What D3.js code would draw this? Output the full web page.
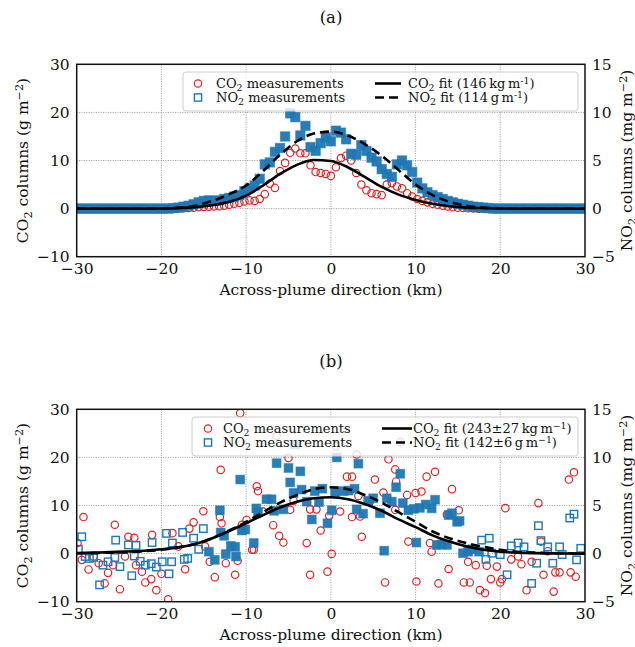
<!DOCTYPE html>
<html><head><meta charset="utf-8">
<script src="https://cdn.jsdelivr.net/npm/d3@7"></script>
<style>
body{margin:0;background:#fff}
svg{display:block}
text{font-family:"DejaVu Serif",serif;fill:#111}
</style>
</head><body>
<svg id="c" width="635" height="647"></svg>
<script>
// ---------- data ----------
const xTicks = [-30, -20, -10, 0, 10, 20, 30];
const co2Ticks = [-10, 0, 10, 20, 30];
const no2Ticks = [-5, 0, 5, 10, 15];

// fit curves, sampled every 2 km (CO2 in g m-2, NO2 in mg m-2)
const fitX = [-30,-28,-26,-24,-22,-20,-18,-16,-14,-12,-10,-8,-6,-4,-2,0,2,4,6,8,10,12,14,16,18,20,22,24,26,28,30];
const aCo2Fit = [0,0,0,0,0,0.02,0.1,0.3,0.7,1.4,2.7,4.8,7.2,9.1,10.1,9.9,8.6,6.6,4.5,2.9,1.8,1.0,0.5,0.2,0.1,0.03,0,0,0,0,0];
const aNo2Fit = [0,0,0,0,0,0.03,0.1,0.3,0.8,1.5,2.4,3.9,5.6,7.0,7.8,8.0,7.6,6.7,5.5,4.0,2.5,1.4,0.7,0.3,0.1,0.03,0,0,0,0,0];
const bCo2Fit = [0.1,0.2,0.3,0.45,0.6,0.9,1.3,2.0,3.2,4.7,6.3,8.0,9.6,10.8,11.5,11.7,11.3,10.3,8.9,7.1,5.5,3.8,2.5,1.5,0.8,0.4,0.2,0.1,0.05,0.02,0];
const bNo2Fit = [0.03,0.05,0.1,0.15,0.25,0.4,0.65,1.0,1.6,2.4,3.3,4.3,5.3,6.1,6.7,6.9,6.7,6.1,5.3,4.3,3.3,2.3,1.6,1.1,0.7,0.4,0.2,0.1,0.05,0.02,0];

// panel (a) measurements
const aX = [-30.0,-29.4,-28.8,-28.2,-27.6,-27.0,-26.4,-25.8,-25.2,-24.6,-24.0,-23.4,-22.8,-22.2,-21.6,-21.0,-20.4,-19.8,-19.2,-18.6,-18.0,-17.4,-16.8,-16.2,-15.6,-15.0,-14.4,-13.8,-13.2,-12.6,-12.0,-11.4,-10.8,-10.2,-9.6,-9.0,-8.4,-7.8,-7.2,-6.6,-6.0,-5.4,-4.8,-4.2,-3.6,-3.0,-2.4,-1.8,-1.2,-0.6,0.0,0.6,1.2,1.8,2.4,3.0,3.6,4.2,4.8,5.4,6.0,6.6,7.2,7.8,8.4,9.0,9.6,10.2,10.8,11.4,12.0,12.6,13.2,13.8,14.4,15.0,15.6,16.2,16.8,17.4,18.0,18.6,19.2,19.8,20.4,21.0,21.6,22.2,22.8,23.4,24.0,24.6,25.2,25.8,26.4,27.0,27.6,28.2,28.8,29.4,30.0];
const aCo2 = [0,0,0,0,0,0,0,0,0,0,0,0,0,0,0,0,0,0,0,0,0.05,0.1,0.15,0.2,0.3,0.35,0.4,0.45,0.5,0.6,0.8,1.0,1.2,1.5,1.7,1.6,2.0,3.0,5.2,4.3,7.8,9.5,11.6,12.5,11.5,11.5,9.0,7.6,7.4,7.2,6.8,8.6,10.5,11.0,10.0,7.4,5.0,3.8,3.2,3.0,2.8,5.0,5.3,4.6,4.2,3.2,2.5,2.0,1.6,1.3,1.0,0.8,0.6,0.45,0.3,0.2,0.12,0.08,0.05,0,0,0,0,0,0,0,0,0,0,0,0,0,0,0,0,0,0,0,0,0,0];
const aNo2 = [0,0,0,0,0,0,0,0,0,0,0,0,0,0,0,0,0,0,0,0.05,0.1,0.2,0.3,0.45,0.65,0.8,0.85,0.8,0.85,1.0,1.1,1.25,1.4,1.8,2.1,2.4,3.1,4.6,4.8,5.9,6.3,7.5,9.9,9.5,7.6,8.6,6.4,6.0,6.8,7.4,7.0,8.1,7.9,7.2,5.7,5.6,6.6,6.0,5.3,4.9,4.1,3.6,3.3,4.6,5.0,4.5,3.8,2.7,2.1,1.7,1.4,1.2,1.0,0.8,0.65,0.5,0.4,0.3,0.2,0.15,0.1,0.05,0,0,0,0,0,0,0,0,0,0,0,0,0,0,0,0,0,0,0];

// panel (b) measurements: [x km, value]
const bCo2 = [[-29.9,2.2],[-29.2,7.6],[-29.4,-1.3],[-28.6,-3.3],[-28.0,-0.6],[-27.4,-2.0],[-26.7,-6.2],[-26.3,-4.0],[-25.7,-2.4],[-25.5,6.0],[-24.9,-7.4],[-24.3,-0.6],[-23.9,3.5],[-23.2,3.3],[-23.0,-2.4],[-22.3,-3.75],[-21.9,-6.0],[-21.2,-5.3],[-21.1,3.9],[-20.6,-7.6],[-20.0,-4.2],[-19.2,-9.5],[-18.7,4.25],[-18.0,1.5],[-17.2,-3.25],[-16.7,5.2],[-16.2,6.5],[-15.05,8.8],[-14.85,1.5],[-14.3,-1.7],[-13.7,-4.9],[-13.1,7.6],[-13.0,17.4],[-12.9,6.3],[-12.4,-2.0],[-11.3,-4.4],[-11.0,-1.5],[-10.7,29.2],[-10.5,6.0],[-9.95,7.0],[-9.3,0.8],[-9.1,0.8],[-8.75,14.0],[-8.6,13.0],[-8.0,8.75],[-6.8,5.9],[-6.4,24.5],[-6.1,3.7],[-5.6,2.3],[-5.0,19.9],[-4.8,9.1],[-4.4,11.0],[-2.85,2.2],[-2.45,-4.4],[-2.45,9.2],[-1.7,9.2],[-1.2,4.8],[-0.4,-3.75],[0.1,-0.06],[-0.2,7.85],[0.6,22.3],[1.1,8.75],[1.9,16.0],[2.5,16.0],[3.05,20.6],[3.25,12.0],[2.5,7.6],[3.45,7.7],[3.65,3.5],[4.6,10.8],[5.2,15.4],[6.2,12.7],[6.4,-6.0],[6.8,19.6],[7.6,17.5],[7.7,15.0],[7.6,9.1],[8.2,23.2],[9.0,12.2],[9.15,2.5],[10.0,12.6],[10.1,-5.8],[10.7,12.9],[11.3,16.0],[11.7,2.2],[11.9,0.4],[12.3,17.0],[12.7,-6.2],[13.7,8.1],[13.9,-3.2],[14.3,13.4],[15.1,9.0],[15.7,-6.0],[16.2,-1.7],[16.4,-6.0],[17.1,-2.4],[17.6,-7.6],[18.2,-8.2],[18.4,-2.5],[18.9,-5.3],[19.6,-2.7],[20.0,-6.0],[20.2,-5.3],[20.6,9.45],[21.3,-1.2],[22.1,-0.6],[22.5,-2.2],[23.1,-7.6],[23.7,-1.7],[24.5,10.5],[24.8,2.5],[25.1,-4.4],[25.6,0.5],[26.3,-7.9],[26.5,-3.9],[27.0,-3.9],[28.1,15.4],[28.3,-3.9],[28.7,16.9],[28.9,-4.8]];
const bNo2Plume = [[-14.4,0.2],[-13.7,-0.65],[-13.1,4.5],[-13.0,2.2],[-12.6,1.85],[-12.4,-0.05],[-11.8,0.8],[-11.3,0.7],[-11.2,-0.3],[-10.7,7.7],[-10.5,2.4],[-10.1,2.5],[-9.1,1.1],[-8.8,4.7],[-8.6,4.3],[-7.6,5.65],[-7.0,5.65],[-6.7,4.45],[-6.4,9.4],[-5.6,4.6],[-5.0,8.9],[-4.8,7.4],[-4.4,6.3],[-4.2,11.35],[-3.6,8.55],[-3.45,6.65],[-2.85,5.4],[-2.25,3.55],[-1.9,6.5],[-1.4,5.35],[-1.0,6.75],[-0.4,3.15],[0.1,4.5],[0.5,6.4],[0.7,10.0],[1.5,6.5],[2.1,6.55],[2.8,6.75],[3.05,4.6],[3.25,9.35],[3.8,4.15],[4.4,5.5],[5.0,5.75],[5.8,4.2],[6.3,0.3],[6.6,5.75],[7.2,5.4],[7.7,6.9],[8.2,8.3],[8.5,5.25],[9.15,4.5],[9.8,4.65],[10.1,1.15],[10.5,4.75],[11.2,5.1],[11.9,4.7],[12.3,5.6],[12.5,0.9],[13.1,0.95],[13.7,0.9],[13.9,4.0],[14.3,4.2],[14.9,3.3],[15.2,3.4],[15.6,0.04],[16.2,0.2],[16.7,0.45],[17.5,0.2]];
const bNo2Bg = [[-29.8,0.45],[-29.4,1.75],[-29.0,-0.3],[-28.5,-0.5],[-28.0,-0.4],[-27.3,-3.25],[-26.9,-1.2],[-26.3,-0.85],[-25.4,1.4],[-25.5,-0.4],[-24.9,-1.35],[-23.9,0.9],[-23.5,-2.3],[-23.2,-0.25],[-23.0,0.85],[-22.5,-0.8],[-21.9,-1.2],[-21.1,1.15],[-21.2,-1.05],[-20.6,-1.4],[-19.9,-0.85],[-19.4,2.1],[-19.1,-2.1],[-18.8,-0.85],[-18.7,1.1],[-17.5,2.2],[-17.3,-0.6],[-16.9,-0.5],[-16.2,1.6],[-15.6,0.45],[-15.05,2.6],[17.8,1.4],[18.3,-0.6],[18.7,1.6],[19.0,0.04],[20.0,-0.1],[20.8,-2.2],[21.3,0.8],[22.1,1.1],[22.8,0.7],[23.7,-3.1],[24.3,-1.0],[24.5,2.9],[24.8,1.35],[25.6,0.7],[26.2,-1.0],[27.0,0.7],[27.3,-0.1],[28.2,3.7],[28.7,4.1],[29.0,-0.65],[29.5,0.55]];

// ---------- drawing ----------
const svg = d3.select("#c");
const RED = "#d62728", BLUE = "#1f77b4";
const X0 = 76.7, X1 = 585;

function rich(sel, parts) {
  parts.forEach(([t, m]) => {
    const ts = sel.append("tspan").text(t);
    if (m === "sub") ts.attr("font-size", "72%").attr("dy", "0.28em");
    if (m === "sup") ts.attr("font-size", "72%").attr("dy", "-0.45em");
    if (m === "back-sub") ts.attr("dy", "-0.2em");
    if (m === "back-sup") ts.attr("dy", "0.32em");
  });
}

function panel(cfg) {
  const top = cfg.top, bot = cfg.top + 192.4;
  const x = d3.scaleLinear().domain([-30, 30]).range([X0, X1]);
  const yL = d3.scaleLinear().domain([-10, 30]).range([bot, top]);
  const yR = d3.scaleLinear().domain([-5, 15]).range([bot, top]);
  const g = svg.append("g");

  // grid
  const grid = g.append("g").attr("stroke", "#8a8a8a").attr("stroke-width", 0.9).attr("stroke-dasharray", "1,1.4");
  xTicks.slice(1, -1).forEach(t => grid.append("line").attr("x1", x(t)).attr("x2", x(t)).attr("y1", top).attr("y2", bot));
  co2Ticks.slice(1, -1).forEach(t => grid.append("line").attr("x1", X0).attr("x2", X1).attr("y1", yL(t)).attr("y2", yL(t)));

  const clip = "clip" + cfg.id;
  g.append("clipPath").attr("id", clip).append("rect").attr("x", X0).attr("y", top).attr("width", X1 - X0).attr("height", bot - top);
  const plot = g.append("g").attr("clip-path", `url(#${clip})`);

  const sq = cfg.sq;
  plot.append("g").selectAll("circle").data(cfg.co2).join("circle")
    .attr("cx", d => x(d[0])).attr("cy", d => yL(d[1])).attr("r", 3.7)
    .attr("fill", "none").attr("stroke", RED).attr("stroke-width", 1.2);
  if (cfg.no2Filled) plot.append("g").selectAll("rect").data(cfg.no2Filled).join("rect")
    .attr("x", d => x(d[0]) - sq / 2).attr("y", d => yR(d[1]) - sq / 2).attr("width", sq).attr("height", sq)
    .attr("fill", BLUE).attr("fill-opacity", 0.95).attr("stroke", BLUE).attr("stroke-opacity", 0.55).attr("stroke-width", 1);
  if (cfg.no2Hollow) plot.append("g").selectAll("rect").data(cfg.no2Hollow).join("rect")
    .attr("x", d => x(d[0]) - 3.7).attr("y", d => yR(d[1]) - 3.7).attr("width", 7.4).attr("height", 7.4)
    .attr("fill", "none").attr("stroke", BLUE).attr("stroke-width", 1.4);

  const lineL = d3.line().x((d, i) => x(fitX[i])).y(d => yL(d)).curve(d3.curveMonotoneX);
  const lineR = d3.line().x((d, i) => x(fitX[i])).y(d => yR(d)).curve(d3.curveMonotoneX);
  plot.append("path").attr("d", lineL(cfg.co2Fit)).attr("fill", "none").attr("stroke", "#000").attr("stroke-width", 2.6);
  plot.append("path").attr("d", lineR(cfg.no2Fit)).attr("fill", "none").attr("stroke", "#000").attr("stroke-width", 2.6).attr("stroke-dasharray", "9,5");

  const fs = "15.5px";
  const ax = d3.axisBottom(x).tickValues(xTicks).tickSize(0).tickPadding(6).tickFormat(d3.format("d"));
  const al = d3.axisLeft(yL).tickValues(co2Ticks).tickSize(0).tickPadding(7).tickFormat(d3.format("d"));
  const ar = d3.axisRight(yR).tickValues(no2Ticks).tickSize(0).tickPadding(7).tickFormat(d3.format("d"));
  [[ax, `translate(0,${bot})`], [al, `translate(${X0},0)`], [ar, `translate(${X1},0)`]].forEach(([a, tr]) => {
    const ga = g.append("g").attr("transform", tr).call(a);
    ga.select(".domain").remove();
    ga.selectAll("text").attr("font-family", "DejaVu Serif").attr("font-size", fs).attr("fill", "#111");
  });
  g.append("rect").attr("x", X0).attr("y", top).attr("width", X1 - X0).attr("height", bot - top)
    .attr("fill", "none").attr("stroke", "#111").attr("stroke-width", 1.5);

  svg.append("text").attr("x", 331).attr("y", cfg.titleY).attr("text-anchor", "middle").attr("dy", "0.35em")
    .attr("font-size", "16.5px").text(cfg.title);
  svg.append("text").attr("x", 331).attr("y", bot + 32.5).attr("text-anchor", "middle").attr("dy", "0.35em")
    .attr("font-size", fs).text("Across-plume direction (km)");
  const midY = (top + bot) / 2;
  const yl = svg.append("text").attr("transform", `translate(23,${midY}) rotate(-90)`).attr("text-anchor", "middle")
    .attr("dy", "0.35em").attr("font-size", fs);
  rich(yl, [["CO", null], ["2", "sub"], [" columns (g m", "back-sub"], ["−2", "sup"], [")", "back-sup"]]);
  const yr = svg.append("text").attr("transform", `translate(627,${midY}) rotate(-90)`).attr("text-anchor", "middle")
    .attr("dy", "0.35em").attr("font-size", fs);
  rich(yr, [["NO", null], ["2", "sub"], [" columns (mg m", "back-sub"], ["−2", "sup"], [")", "back-sup"]]);

  const L = cfg.legend;
  const lg = svg.append("g");
  lg.append("rect").attr("x", L.x0).attr("y", L.y0).attr("width", L.x1 - L.x0).attr("height", L.y1 - L.y0)
    .attr("rx", 3).attr("fill", "#fff").attr("fill-opacity", 0.8).attr("stroke", "#cccccc").attr("stroke-width", 1);
  const r1 = L.y0 + 11.5, r2 = L.y0 + 25.5;
  lg.append("circle").attr("cx", L.mx).attr("cy", r1).attr("r", 3.7).attr("fill", "none").attr("stroke", RED).attr("stroke-width", 1.2);
  lg.append("rect").attr("x", L.mx - 3.6).attr("y", r2 - 3.6).attr("width", 7.2).attr("height", 7.2)
    .attr("fill", "none").attr("stroke", BLUE).attr("stroke-width", 1.4);
  lg.append("line").attr("x1", L.l0).attr("x2", L.l1).attr("y1", r1).attr("y2", r1).attr("stroke", "#000").attr("stroke-width", 2.6);
  lg.append("line").attr("x1", L.l0).attr("x2", L.l1).attr("y1", r2).attr("y2", r2).attr("stroke", "#000").attr("stroke-width", 2.6).attr("stroke-dasharray", "9,5");
  const lt = (xx, yy, parts) => rich(lg.append("text").attr("x", xx).attr("y", yy).attr("dy", "0.35em").attr("font-size", "13px"), parts);
  lt(L.tx, r1, [["CO", null], ["2", "sub"], [" measurements", "back-sub"]]);
  lt(L.tx, r2, [["NO", null], ["2", "sub"], [" measurements", "back-sub"]]);
  lt(L.t2, r1, [["CO", null], ["2", "sub"], [cfg.fitCo2, "back-sub"], [cfg.supTxt, "sup"], [")", "back-sup"]]);
  lt(L.t2, r2, [["NO", null], ["2", "sub"], [cfg.fitNo2, "back-sub"], [cfg.supTxt, "sup"], [")", "back-sup"]]);
}

panel({
  id: "a", top: 64.3, title: "(a)", titleY: 17, sq: 9.4,
  co2: aX.map((v, i) => [v, aCo2[i]]),
  no2Filled: aX.map((v, i) => [v, aNo2[i]]),
  no2Hollow: null,
  co2Fit: aCo2Fit, no2Fit: aNo2Fit,
  fitCo2: " fit (146\u2009kg\u2009m", fitNo2: " fit (114\u2009g\u2009m", supTxt: "-1",
  legend: {x0: 183, x1: 578, y0: 72, y1: 111, mx: 198, tx: 216, l0: 375, l1: 401, t2: 408}
});
panel({
  id: "b", top: 409.3, title: "(b)", titleY: 361, sq: 8.8,
  co2: bCo2, no2Filled: bNo2Plume, no2Hollow: bNo2Bg,
  co2Fit: bCo2Fit, no2Fit: bNo2Fit,
  fitCo2: " fit (243±27\u2009kg\u2009m", fitNo2: " fit (142±6\u2009g\u2009m", supTxt: "−1",
  legend: {x0: 192, x1: 578, y0: 417, y1: 456, mx: 208, tx: 223, l0: 382, l1: 412, t2: 413}
});
</script>
</body></html>
